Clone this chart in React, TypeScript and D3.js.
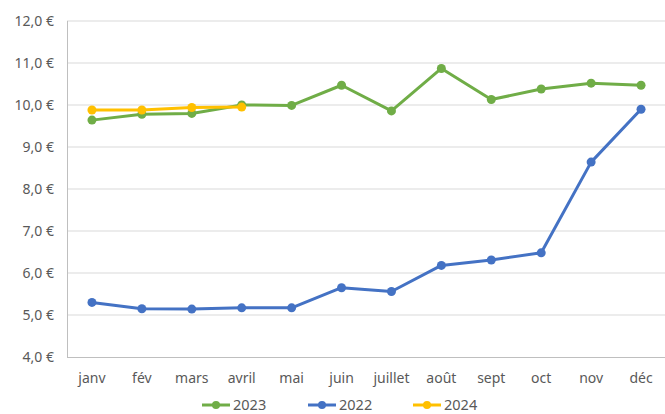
import * as d3 from 'd3'
import React from 'react'

const months = ['janv', 'fév', 'mars', 'avril', 'mai', 'juin', 'juillet', 'août', 'sept', 'oct', 'nov', 'déc']
const values2023 = [9.64, 9.78, 9.8, 10.0, 9.99, 10.47, 9.86, 10.87, 10.13, 10.38, 10.52, 10.47]
const values2022 = [5.3, 5.15, 5.14, 5.17, 5.17, 5.65, 5.56, 6.18, 6.31, 6.48, 8.64, 9.9]
const values2024 = [9.88, 9.88, 9.94, 9.95]
const yTicks = [4, 5, 6, 7, 8, 9, 10, 11, 12]

const series = [
  { name: '2023', values: values2023, color: '#70AD47' },
  { name: '2022', values: values2022, color: '#4472C4' },
  { name: '2024', values: values2024, color: '#FFC000' },
]

const W = 665
const H = 414
const font = '"Noto Sans", "Open Sans", sans-serif'

export default function App() {
  const x = d3.scaleBand<string>().domain(months).range([67, 666])
  const y = d3.scaleLinear().domain([4, 12]).range([357, 21])
  const cx = (i: number) => (x(months[i]) ?? 0) + x.bandwidth() / 2
  const fmt = (v: number) => v.toFixed(1).replace('.', ',') + ' €'

  const legendX = [202, 308, 413]

  return (
    <svg width={W} height={H} style={{ position: 'absolute', left: 0, top: 0 }}>
      <rect width={W} height={H} fill="#fff" />
      {yTicks.map((t) => (
        <g key={t}>
          {t > 4 && <line x1={67} x2={W} y1={y(t)} y2={y(t)} stroke="#d9d9d9" strokeWidth={1} />}
          <text x={54} y={y(t)} dy="0.35em" textAnchor="end" fontSize={14} fill="#595959" fontFamily={font}>
            {fmt(t)}
          </text>
        </g>
      ))}
      <line x1={67.5} x2={67.5} y1={21} y2={357} stroke="#bfbfbf" />
      <line x1={67} x2={W} y1={357.5} y2={357.5} stroke="#bfbfbf" />
      {months.map((m, i) => (
        <text key={m} x={cx(i)} y={378} dy="0.35em" textAnchor="middle" fontSize={14} fill="#595959" fontFamily={font}>
          {m}
        </text>
      ))}
      {series.map((s) => {
        const line = d3
          .line<number>()
          .x((_, i) => cx(i))
          .y((d) => y(d))
        return (
          <g key={s.name}>
            <path d={line(s.values) ?? ''} fill="none" stroke={s.color} strokeWidth={3} strokeLinejoin="round" />
            {s.values.map((v, i) => (
              <circle key={i} cx={cx(i)} cy={y(v)} r={4.5} fill={s.color} />
            ))}
          </g>
        )
      })}
      {series.map((s, i) => (
        <g key={s.name} transform={`translate(${legendX[i]},405)`}>
          <line x1={0} x2={28} y1={0} y2={0} stroke={s.color} strokeWidth={3} />
          <circle cx={14} cy={0} r={4} fill={s.color} />
          <text x={31} y={0} dy="0.35em" fontSize={14.5} fill="#595959" fontFamily={font}>
            {s.name}
          </text>
        </g>
      ))}
    </svg>
  )
}
